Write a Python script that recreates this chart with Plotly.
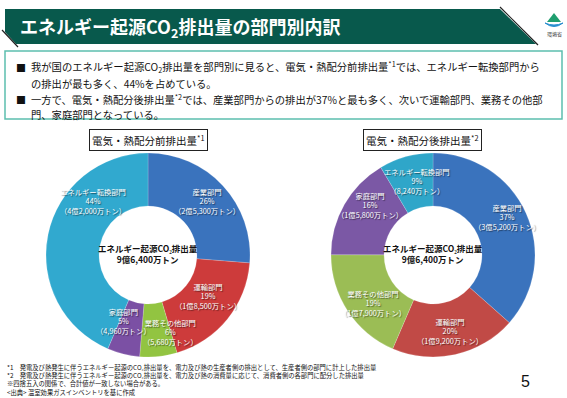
import plotly.graph_objects as go

W, H = 567, 398

sectors = ["産業部門", "運輸部門", "業務その他部門", "家庭部門", "エネルギー転換部門"]
before_vals = [25300, 18500, 5680, 4960, 42000]      # 万トン
after_vals = [35200, 19200, 17900, 15800, 8240]      # 万トン
before_pct = [26, 19, 6, 5, 44]
after_pct = [37, 20, 19, 16, 9]
total_label = "9億6,400万トン"

before_colors = ["#3a73bd", "#cd3b3b", "#92c441", "#7b50a4", "#31a9cf"]
after_colors = ["#3a73bd", "#c14a46", "#9bbd55", "#7b58a5", "#2fa6c9"]

FONT = "Noto Sans CJK JP"


def fmt_amount(v):
    if v >= 10000:
        return f"{v // 10000}億{v % 10000:,}万トン"
    return f"{v:,}万トン"


def px(x):
    return x / W


def py(y):
    return 1 - y / H


fig = go.Figure()

# hidden pixel-space axes for decorations
fig.add_trace(go.Scatter(x=[0, W], y=[0, H], mode="markers",
                         marker=dict(opacity=0), hoverinfo="skip", showlegend=False))

R = 102
HOLE = 0.48
pies = [
    (148, 255, before_vals, before_colors),
    (433, 255, after_vals, after_colors),
]
for cx, cy, vals, cols in pies:
    fig.add_trace(go.Pie(
        labels=sectors, values=vals, sort=False, direction="clockwise", rotation=0,
        hole=HOLE, textinfo="none", showlegend=False, hoverinfo="skip",
        marker=dict(colors=cols, line=dict(color="rgba(255,255,255,0.35)", width=0.5)),
        domain=dict(x=[px(cx - R), px(cx + R)], y=[py(cy + R), py(cy - R)]),
    ))

shapes = []
# title bar
shapes.append(dict(type="path", xref="x", yref="y",
                   path="M 5 9 L 500 9 L 536 44 L 16 44 L 5 32 Z",
                   fillcolor="#08594c", line=dict(width=0), layer="above"))
shapes.append(dict(type="line", xref="x", yref="y", x0=2, y0=30, x1=18, y1=47,
                   line=dict(color="#222", width=1.2)))
shapes.append(dict(type="line", xref="x", yref="y", x0=500, y0=7, x1=538, y1=45,
                   line=dict(color="#222", width=1.2)))
# text box
shapes.append(dict(type="rect", xref="x", yref="y", x0=5, y0=51, x1=562, y1=119,
                   line=dict(color="#5cbfae", width=1.5), fillcolor="white"))
# logo
shapes.append(dict(type="path", xref="x", yref="y",
                   path="M 547 22 L 554 13 L 561 22 Z", fillcolor="#1f9e6e",
                   line=dict(width=0)))
shapes.append(dict(type="path", xref="x", yref="y",
                   path="M 545 23 Q 554 30 563 23 Q 554 27 545 23 Z", fillcolor="#2a8fcf",
                   line=dict(color="#2a8fcf", width=1)))

ann = []
# title
ann.append(dict(x=18, y=27, xref="x", yref="y", xanchor="left", yanchor="middle",
                text="<b>エネルギー起源CO<sub>2</sub>排出量の部門別内訳</b>", showarrow=False,
                font=dict(family=FONT, size=18, color="white")))
ann.append(dict(x=554, y=34, xref="x", yref="y", text="環境省", showarrow=False,
                font=dict(family=FONT, size=5, color="#333")))

# bullets
bullet_lines = [
    (67, True, "我が国のエネルギー起源CO<sub>2</sub>排出量を部門別に見ると、電気・熱配分前排出量<sup>*1</sup>では、エネルギー転換部門から"),
    (83, False, "の排出が最も多く、44%を占めている。"),
    (99, True, "一方で、電気・熱配分後排出量<sup>*2</sup>では、産業部門からの排出が37%と最も多く、次いで運輸部門、業務その他部"),
    (114, False, "門、家庭部門となっている。"),
]
for y, bullet, txt in bullet_lines:
    if bullet:
        ann.append(dict(x=14, y=y, xref="x", yref="y", xanchor="left", yanchor="middle",
                        text="■", showarrow=False, font=dict(family=FONT, size=10, color="#111")))
    ann.append(dict(x=29, y=y, xref="x", yref="y", xanchor="left", yanchor="middle",
                    text=txt, showarrow=False, font=dict(family=FONT, size=10.3, color="#111")))

# chart titles
for cx, t in [(148, "電気・熱配分前排出量<sup>*1</sup>"), (422, "電気・熱配分後排出量<sup>*2</sup>")]:
    ann.append(dict(x=cx, y=140, xref="x", yref="y", text=t, showarrow=False,
                    font=dict(family=FONT, size=10.5, color="#111"),
                    bgcolor="white", bordercolor="#222", borderwidth=1, borderpad=2))

# center texts
for cx in (148, 433):
    ann.append(dict(x=cx, y=253, xref="x", yref="y",
                    text="<b>エネルギー起源CO₂排出量</b><br><b>" + total_label + "</b>",
                    showarrow=False, font=dict(family=FONT, size=8.5, color="#111")))

# slice labels
before_pos = [(207, 201), (208, 296), (170, 332), (123, 321), (93, 201)]
after_pos = [(507, 217), (450, 331), (373, 303), (370, 205), (417, 181)]
for vals, pcts, pos in [(before_vals, before_pct, before_pos), (after_vals, after_pct, after_pos)]:
    for s, v, p, (x, y) in zip(sectors, vals, pcts, pos):
        ann.append(dict(x=x, y=y, xref="x", yref="y",
                        text=f"{s}<br>{p}%<br>（{fmt_amount(v)}）", showarrow=False,
                        font=dict(family=FONT, size=7.3, color="white",
                                  shadow="1px 1px 1px rgba(0,0,0,0.55)")))

# footnotes (one block)
foot = [
    "*1　発電及び熱発生に伴うエネルギー起源のCO₂排出量を、電力及び熱の生産者側の排出として、生産者側の部門に計上した排出量",
    "*2　発電及び熱発生に伴うエネルギー起源のCO₂排出量を、電力及び熱の消費量に応じて、消費者側の各部門に配分した排出量",
    "※四捨五入の関係で、合計値が一致しない場合がある。",
    "&lt;出典&gt; 温室効果ガスインベントリを基に作成",
]
ann.append(dict(x=5, y=380, xref="x", yref="y", xanchor="left", yanchor="middle",
                align="left", text="<br>".join(foot), showarrow=False,
                font=dict(family=FONT, size=6.3, color="#111")))

ann.append(dict(x=525, y=381, xref="x", yref="y", text="5", showarrow=False,
                font=dict(family="Liberation Sans", size=16, color="#111")))

fig.update_layout(
    width=W, height=H, margin=dict(l=0, r=0, t=0, b=0),
    paper_bgcolor="white", plot_bgcolor="white",
    xaxis=dict(range=[0, W], visible=False, domain=[0, 1], fixedrange=True),
    yaxis=dict(range=[H, 0], visible=False, domain=[0, 1], fixedrange=True),
    shapes=shapes, annotations=ann, showlegend=False,
)

fig.write_html("out.html", config={"displayModeBar": False},
               post_script="document.body.style.margin='0';document.body.style.overflow='hidden';")
